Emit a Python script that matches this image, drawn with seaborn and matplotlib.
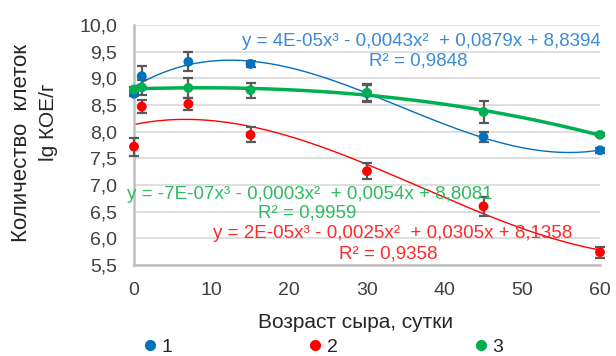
import numpy as np
import pandas as pd
import matplotlib
matplotlib.use("Agg")
import matplotlib.pyplot as plt
import seaborn as sns
from matplotlib.lines import Line2D

days = [0, 1, 7, 15, 30, 45, 60]
s1 = [8.71, 9.04, 9.31, 9.27, 8.72, 7.90, 7.65]
s2 = [7.72, 8.47, 8.52, 7.94, 7.26, 6.60, 5.74]
s3 = [8.79, 8.83, 8.82, 8.78, 8.73, 8.37, 7.94]
e1 = [0.05, 0.20, 0.18, 0.05, 0.15, 0.10, 0.05]
e2 = [0.17, 0.12, 0.12, 0.14, 0.15, 0.18, 0.10]
e3 = [0.05, 0.14, 0.18, 0.14, 0.17, 0.20, 0.03]
series_names = ["1", "2", "3"]
colors = ["#0070C0", "#FF0000", "#00B050"]
text_colors = ["#3a8ad6", "#ff2a2a", "#2dbb5f"]
equations = ["y = 4E-05x³ - 0,0043x²  + 0,0879x + 8,8394",
             "y = 2E-05x³ - 0,0025x²  + 0,0305x + 8,1358",
             "y = -7E-07x³ - 0,0003x²  + 0,0054x + 8,8081"]
r2 = ["R² = 0,9848", "R² = 0,9358", "R² = 0,9959"]
yticks = [5.5, 6.0, 6.5, 7.0, 7.5, 8.0, 8.5, 9.0, 9.5, 10.0]
xticks = [0, 10, 20, 30, 40, 50, 60]

sns.set_theme(style="white")
plt.rcParams['font.family'] = ['Liberation Sans', 'DejaVu Sans']

fig = plt.figure(figsize=(6.16, 3.56), dpi=100)
ax = fig.add_axes([134/616, 1-265/356, (600-134)/616, (265-25)/356])

ys = [s1, s2, s3]
es = [e1, e2, e3]
rows = []
curves = []
xx = np.linspace(0, 60, 300)
for name, y in zip(series_names, ys):
    for d, v in zip(days, y):
        rows.append({"day": d, "val": v, "s": name})
    c = np.polyfit(days, y, 3)
    for xv, yv in zip(xx, np.polyval(c, xx)):
        curves.append({"day": xv, "val": yv, "s": name})
df = pd.DataFrame(rows)
cdf = pd.DataFrame(curves)
pal = dict(zip(series_names, colors))

# horizontal grid
for t in yticks:
    ax.axhline(t, color="#d9d9d9", lw=1.2, zorder=0)

for name, lw in zip(series_names, [1.0, 1.0, 2.5]):
    sub = cdf[cdf.s == name]
    sns.lineplot(data=sub, x="day", y="val", color=pal[name], lw=lw, ax=ax,
                 legend=False, zorder=2, estimator=None, sort=False)

for name, y, e in zip(series_names, ys, es):
    ax.errorbar(days, y, yerr=e, fmt="none", ecolor="#595959", elinewidth=1.6,
                capsize=3.8, capthick=1.6, zorder=3, clip_on=False)

sns.scatterplot(data=df, x="day", y="val", hue="s", palette=pal, s=50,
                edgecolor="none", ax=ax, legend=False, zorder=4, clip_on=False)

ax.set_xlim(0, 60)
ax.set_ylim(5.5, 10.0)
ax.set_xticks(xticks)
ax.set_yticks(yticks)
ax.set_xticklabels([str(t) for t in xticks])
ax.set_yticklabels([f"{t:.1f}".replace(".", ",") for t in yticks])
ax.tick_params(axis="both", labelsize=14, colors="#404040", length=0)
ax.tick_params(axis="y", pad=12)
ax.tick_params(axis="x", pad=12)
for sp in ["top", "right"]:
    ax.spines[sp].set_visible(False)
for sp in ["left", "bottom"]:
    ax.spines[sp].set_color("#bfbfbf")
    ax.spines[sp].set_linewidth(1.8)
ax.set_xlabel("")
ax.set_ylabel("")

fig.text(356/616, 1-323/356, "Возраст сыра, сутки", ha="center", va="center",
         fontsize=15, color="#262626")
fig.text(22/616, 1-143/356, "Количество  клеток", ha="center", va="center",
         rotation=90, fontsize=16, color="#262626")
fig.text(48/616, 1-122/356, "lg КОЕ/г", ha="center", va="center",
         rotation=90, fontsize=15, color="#262626")

# trendline labels
fs_eq = 13.5
fig.text(242/616, 1-41/356, equations[0], ha="left", va="center", fontsize=fs_eq, color=text_colors[0])
fig.text(418/616, 1-61/356, r2[0], ha="center", va="center", fontsize=fs_eq, color=text_colors[0])
fig.text(127/616, 1-195/356, equations[2], ha="left", va="center", fontsize=fs_eq, color=text_colors[2])
fig.text(307/616, 1-213/356, r2[2], ha="center", va="center", fontsize=fs_eq, color=text_colors[2])
fig.text(213/616, 1-234/356, equations[1], ha="left", va="center", fontsize=fs_eq, color=text_colors[1])
fig.text(388/616, 1-254/356, r2[1], ha="center", va="center", fontsize=fs_eq, color=text_colors[1])

handles = [Line2D([], [], marker="o", ls="none", color=c, markersize=7) for c in colors]
fig.legend(handles, series_names, loc="center left", bbox_to_anchor=(144/616, 1-347/356),
           ncol=3, frameon=False, fontsize=14, handlelength=0.6, handletextpad=0.3,
           columnspacing=7.05, borderpad=0, borderaxespad=0, labelcolor="#262626")

fig.savefig("out.png", dpi=100)
